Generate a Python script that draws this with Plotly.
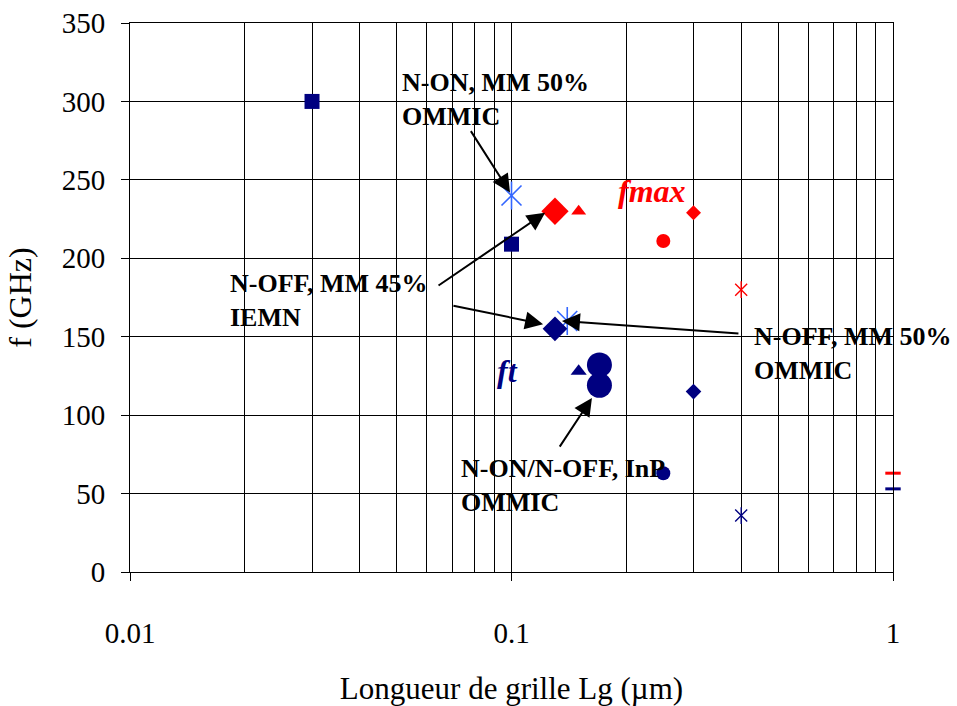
import math
import plotly.graph_objects as go

# Gate length Lg (µm) versus transition frequency ft (GHz)
ft_lg = [0.03, 0.1, 0.13, 0.15, 0.17, 0.17, 0.25, 0.3, 0.4, 1.0]
ft_ghz = [300, 209, 155, 128, 132, 119, 63, 115, 36, 53]

# Gate length Lg (µm) versus maximum oscillation frequency fmax (GHz)
fmax_lg = [0.13, 0.15, 0.25, 0.3, 0.4, 1.0]
fmax_ghz = [230, 230, 211, 229, 180, 63]

# N-ON / N-OFF MM 50% OMMIC devices (fmax, ft)
ommic_lg = [0.1, 0.14]
ommic_ghz = [240, 160]

x_ticks = [0.01, 0.1, 1]
x_tick_text = ["0.01", "0.1", "1"]
y_ticks = [0, 50, 100, 150, 200, 250, 300, 350]

NAVY = "#000080"
RED = "#FF0000"
LIGHT_BLUE = "#3366FF"
SERIF = "Liberation Serif"

# marker style per point
ft_symbols = ["square", "square", "diamond", "triangle-up", "circle", "circle",
              "circle", "diamond", "star", "dash"]
ft_sizes = [15, 15, 19, 14, 25, 25, 14, 12, 12, 11]
fmax_symbols = ["diamond", "triangle-up", "circle", "diamond", "star", "dash"]
fmax_sizes = [21, 13, 14, 11.5, 12, 11]
ommic_symbols = ["star", "star"]
ommic_sizes = [20, 20]

fig = go.Figure()


def add_points(xs, ys, symbols, sizes, color, line_w):
    filled = [(x, y, s, z) for x, y, s, z in zip(xs, ys, symbols, sizes)
              if s not in ("star", "dash")]
    if filled:
        fig.add_trace(go.Scatter(
            x=[p[0] for p in filled], y=[p[1] for p in filled], mode="markers",
            cliponaxis=False, showlegend=False,
            marker=dict(symbol=[p[2] for p in filled], size=[p[3] for p in filled],
                        color=color, opacity=1, line=dict(width=0))))
    stars = [(x, y, z) for x, y, s, z in zip(xs, ys, symbols, sizes) if s == "star"]
    for sym in ("x-thin-open", "line-ns-open"):
        if stars:
            fig.add_trace(go.Scatter(
                x=[p[0] for p in stars], y=[p[1] for p in stars], mode="markers",
                cliponaxis=False, showlegend=False,
                marker=dict(symbol=sym, size=[p[2] for p in stars], color=color,
                            opacity=1, line=dict(width=line_w, color=color))))
    dashes = [(x, y, z) for x, y, s, z in zip(xs, ys, symbols, sizes) if s == "dash"]
    if dashes:
        fig.add_trace(go.Scatter(
            x=[p[0] for p in dashes], y=[p[1] for p in dashes], mode="markers",
            cliponaxis=False, showlegend=False,
            marker=dict(symbol="line-ew-open", size=[p[2] for p in dashes], color=color,
                        opacity=1, line=dict(width=3, color=color))))


add_points(ommic_lg, ommic_ghz, ommic_symbols, ommic_sizes, LIGHT_BLUE, 1.6)
add_points(ft_lg, ft_ghz, ft_symbols, ft_sizes, NAVY, 1.4)
add_points(fmax_lg, fmax_ghz, fmax_symbols, fmax_sizes, RED, 1.4)

lx = math.log10

# arrows: (tail x, tail y, head x, head y)
arrows = [
    (0.0778, 282, 0.0991, 242),
    (0.0638, 182, 0.1225, 229),
    (0.0698, 170, 0.121, 158),
    (0.397, 152, 0.1356, 160),
    (0.133, 79, 0.1625, 111),
]
for tx, ty, hx, hy in arrows:
    fig.add_annotation(x=lx(hx), y=hy, ax=lx(tx), ay=ty, xref="x", yref="y",
                       axref="x", ayref="y", text="", showarrow=True,
                       arrowhead=2, arrowsize=1.8, arrowwidth=2, arrowcolor="black")

labels = [
    (0.0511, 301, "N-ON, MM 50%<br>OMMIC"),
    (0.0181, 173, "N-OFF, MM 45%<br>IEMN"),
    (0.4266, 139, "N-OFF, MM 50%<br>OMMIC"),
    (0.0728, 55, "N-ON/N-OFF, InP<br>OMMIC"),
]
for x, y, t in labels:
    fig.add_annotation(x=lx(x), y=y, xref="x", yref="y", text="<b>" + t + "</b>",
                       showarrow=False, xanchor="left", yanchor="middle", align="left",
                       font=dict(family=SERIF, size=26, color="black"))

fig.add_annotation(x=lx(0.0905), y=128, xref="x", yref="y", text="<b><i>ft</i></b>",
                   showarrow=False, xanchor="left", yanchor="middle",
                   font=dict(family=SERIF, size=32, color=NAVY))
fig.add_annotation(x=lx(0.188), y=243, xref="x", yref="y", text="<b><i>fmax</i></b>",
                   showarrow=False, xanchor="left", yanchor="middle",
                   font=dict(family=SERIF, size=32, color=RED))

minor_vals = [m * d for d in (0.01, 0.1) for m in range(2, 10)]

fig.update_xaxes(
    type="log", range=[-2, 0], tickvals=x_ticks, ticktext=x_tick_text,
    ticks="outside", ticklen=8, tickcolor="black", tickwidth=1,
    showgrid=True, gridcolor="black", gridwidth=1,
    minor=dict(tickmode="array", tickvals=minor_vals, showgrid=True,
               gridcolor="black", gridwidth=1, ticks=""),
    showline=True, linecolor="black", linewidth=1, mirror=True, zeroline=False,
    tickfont=dict(family=SERIF, size=29, color="black"), ticklabelstandoff=27,
    automargin=False,
    title=dict(text="Longueur de grille Lg (µm)", standoff=36,
               font=dict(family=SERIF, size=31, color="black")),
)
fig.update_yaxes(
    range=[0, 350], tickvals=y_ticks,
    ticks="outside", ticklen=8, tickcolor="black", tickwidth=1,
    showgrid=True, gridcolor="black", gridwidth=1,
    showline=True, linecolor="black", linewidth=1, mirror=True, zeroline=False,
    tickfont=dict(family=SERIF, size=29, color="black"), ticklabelstandoff=10,
    automargin=False,
    title=dict(text="f (GHz)", standoff=20,
               font=dict(family=SERIF, size=32, color="black")),
)
fig.update_layout(
    width=957, height=706, margin=dict(l=130, r=64, t=23, b=134),
    paper_bgcolor="white", plot_bgcolor="white", showlegend=False,
)

fig.write_html("out.html")
